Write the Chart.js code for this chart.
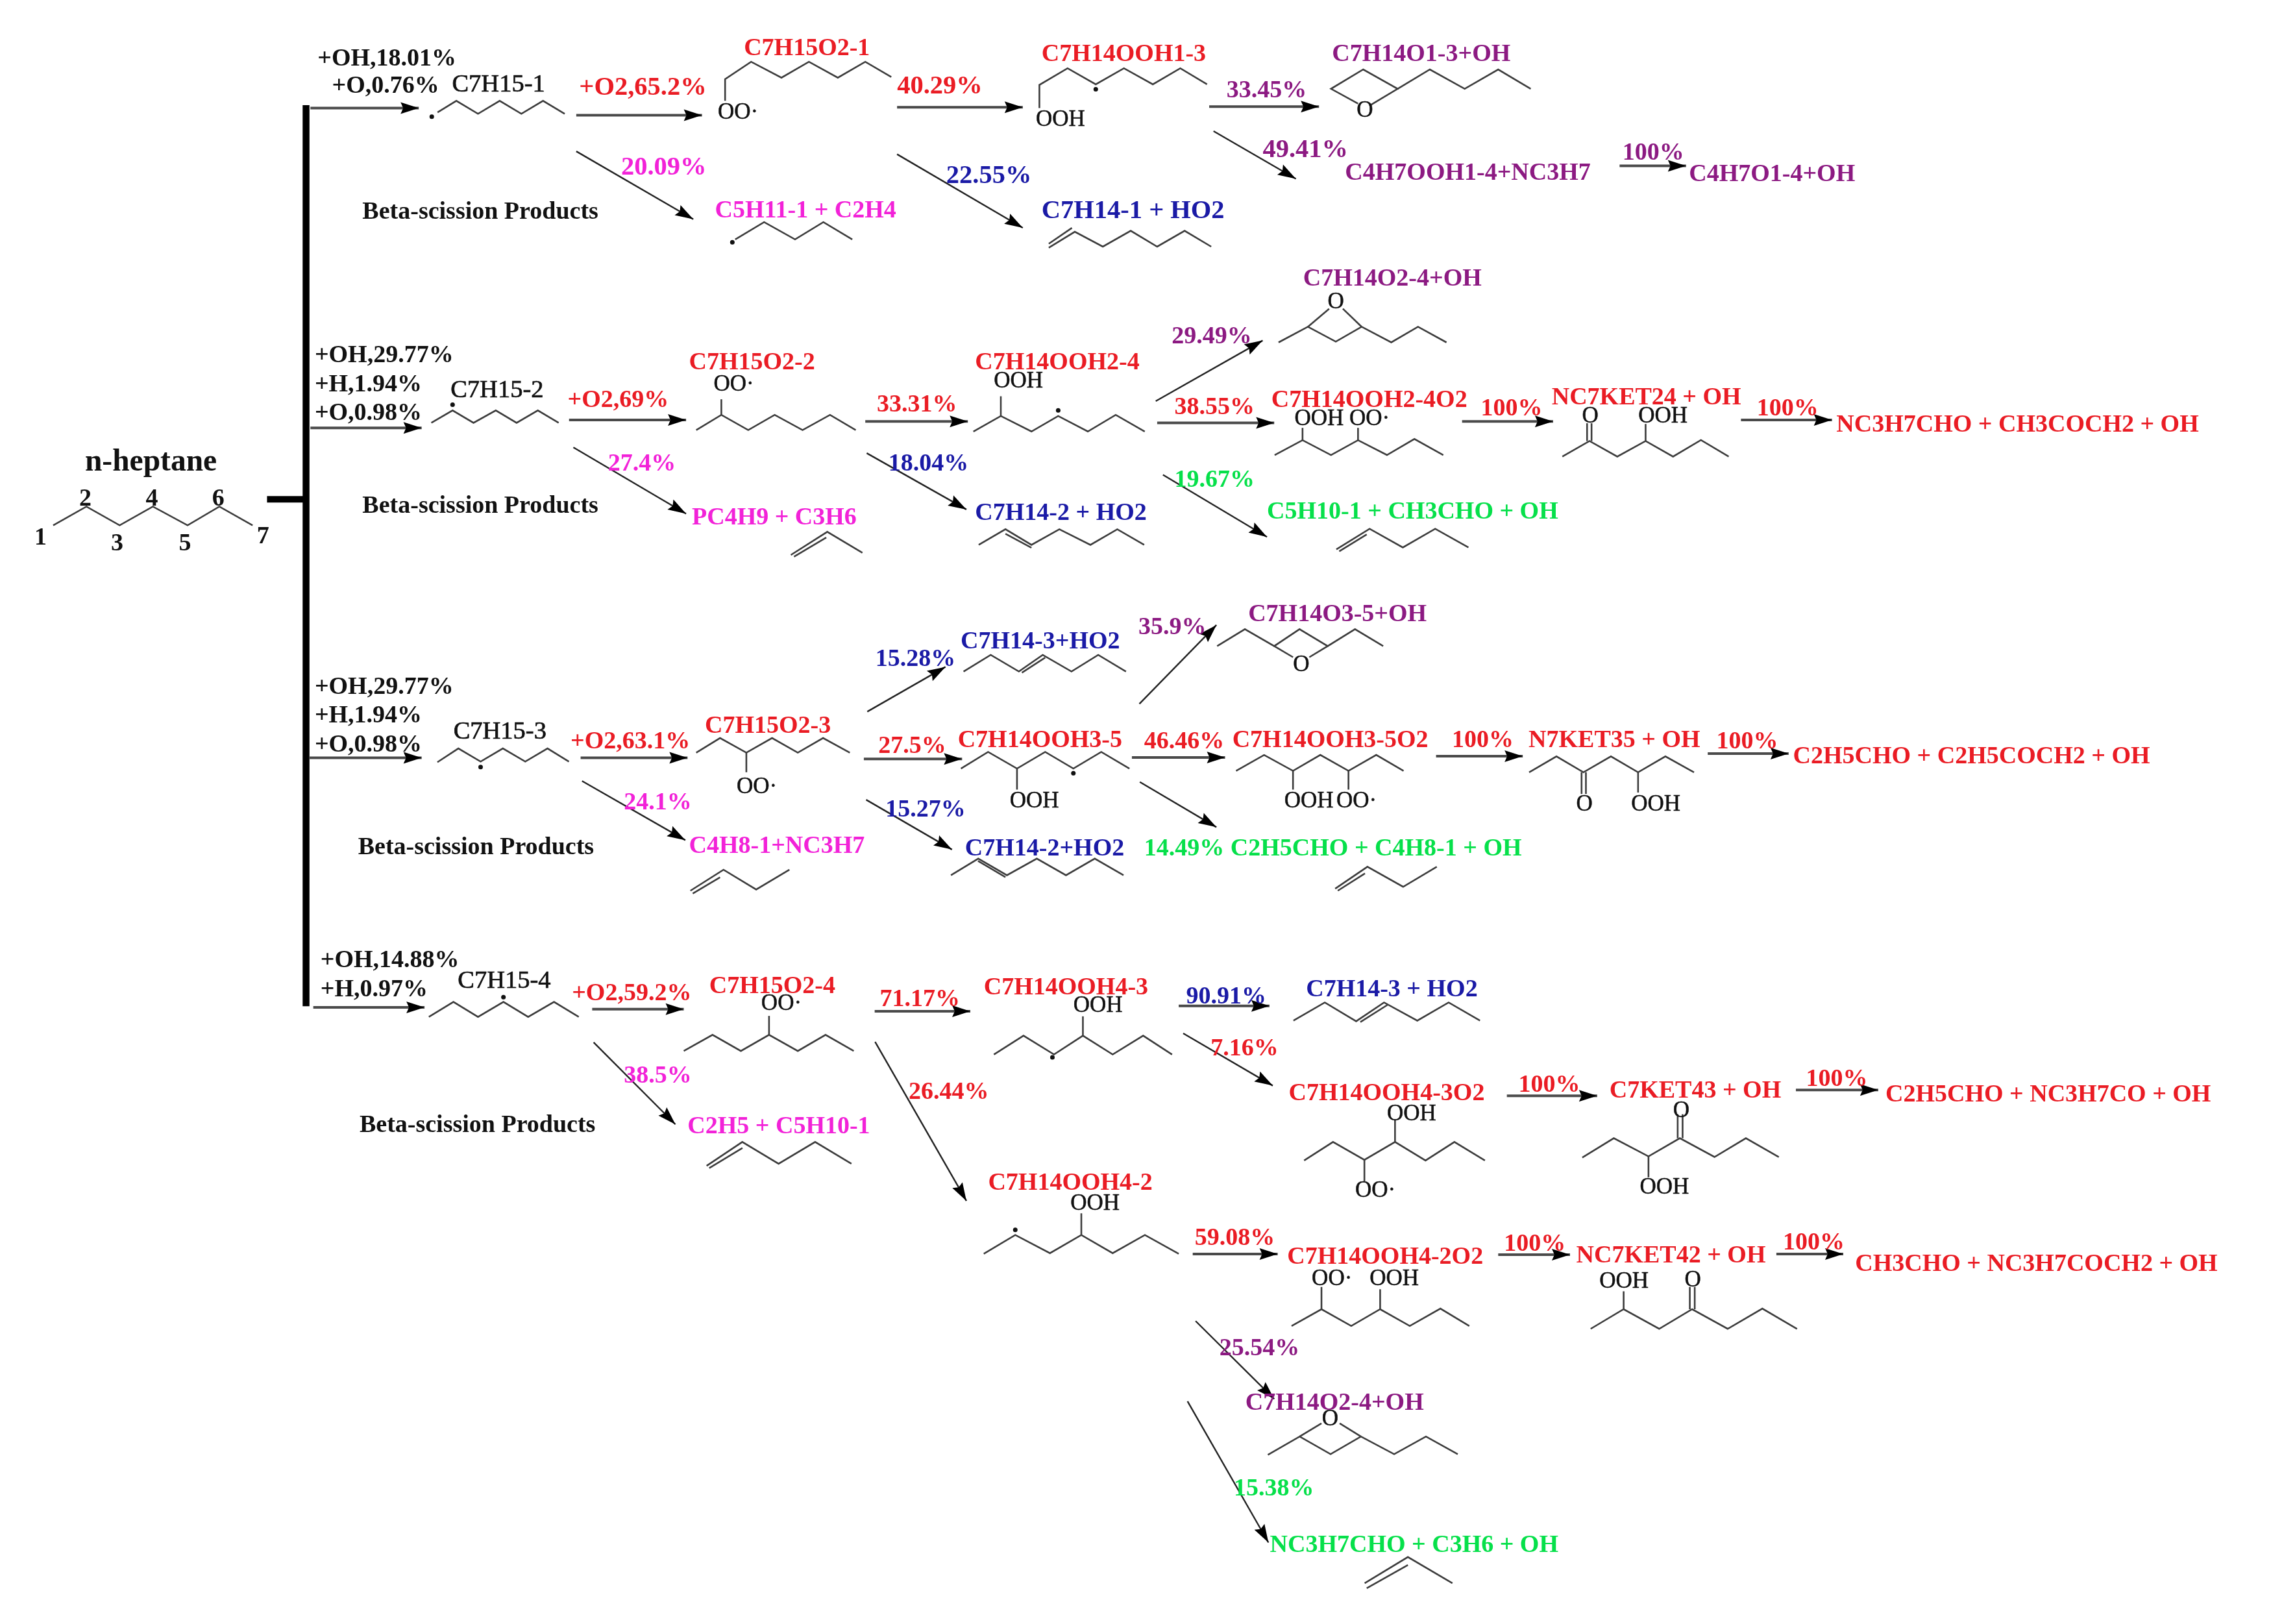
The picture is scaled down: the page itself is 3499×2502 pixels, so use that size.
<!DOCTYPE html>
<html>
<head>
<meta charset="utf-8">
<title>n-heptane reaction pathways</title>
<script src="https://cdn.jsdelivr.net/npm/chart.js@4"></script>
<style>
    html, body { margin: 0; padding: 0; background: #fff; }
    canvas { display: block; filter: blur(0.7px); }
</style>
</head>
<body>
<canvas id="pathways" width="3499" height="2502"></canvas>
<script>
// --- Labels: [text, left x, centre y] on the diagram axes ---

const titleLabels = [['n-heptane', 57, 318]];

const atomNumbers = [
    ['1', 22, 370], ['2', 53, 343], ['3', 75, 374], ['4', 99, 343],
    ['5', 122, 374], ['6', 145, 343], ['7', 176, 369],
];

const blackLabels = [
    ['+OH,18.01%', 218, 39], ['+O,0.76%', 228, 58],
    ['Beta-scission Products', 249, 145],
    ['+OH,29.77%', 216, 244], ['+H,1.94%', 216, 264], ['+O,0.98%', 216, 284],
    ['Beta-scission Products', 249, 348],
    ['+OH,29.77%', 216, 473], ['+H,1.94%', 216, 493], ['+O,0.98%', 216, 513],
    ['Beta-scission Products', 246, 584],
    ['+OH,14.88%', 220, 662], ['+H,0.97%', 220, 682],
    ['Beta-scission Products', 247, 776],
];

const radicalNames = [
    ['C7H15-1', 311, 57], ['C7H15-2', 310, 268], ['C7H15-3', 312, 504], ['C7H15-4', 315, 676],
];

const groupLabels = [
    ['OO·', 495, 76], ['OOH', 715, 81], ['O', 937, 75],
    ['OO·', 492, 264], ['OOH', 686, 262], ['OOH', 894, 288], ['OO·', 932, 288],
    ['O', 1093, 286], ['OOH', 1132, 286], ['O', 917, 207],
    ['OO·', 508, 542], ['OOH', 697, 552], ['OOH', 887, 552], ['OO·', 923, 552],
    ['O', 1089, 554], ['OOH', 1127, 554], ['O', 893, 458],
    ['OO·', 525, 692], ['OOH', 741, 693], ['OOH', 958, 768], ['OO·', 936, 821],
    ['O', 1156, 766], ['OOH', 1133, 819], ['OOH', 739, 830],
    ['OO·', 906, 882], ['OOH', 946, 882], ['OOH', 1105, 884], ['O', 1164, 883],
    ['O', 913, 979],
];

const redLabels = [
    ['C7H15O2-1', 513, 32], ['C7H14OOH1-3', 719, 36],
    ['C7H15O2-2', 475, 249], ['+O2,69%', 391, 275], ['33.31%', 605, 278], ['C7H14OOH2-4', 673, 249],
    ['38.55%', 811, 280], ['C7H14OOH2-4O2', 878, 275], ['100%', 1023, 281], ['NC7KET24 + OH', 1072, 273],
    ['100%', 1214, 281], ['NC3H7CHO + CH3COCH2 + OH', 1269, 292],
    ['C7H15O2-3', 486, 500], ['+O2,63.1%', 393, 511], ['27.5%', 606, 514], ['C7H14OOH3-5', 661, 510],
    ['46.46%', 790, 511], ['C7H14OOH3-5O2', 851, 510], ['100%', 1003, 510], ['N7KET35 + OH', 1056, 510],
    ['100%', 1186, 511], ['C2H5CHO + C2H5COCH2 + OH', 1239, 521],
    ['C7H15O2-4', 489, 680], ['+O2,59.2%', 394, 685], ['71.17%', 607, 689], ['C7H14OOH4-3', 679, 681],
    ['7.16%', 836, 723], ['26.44%', 627, 753], ['C7H14OOH4-3O2', 890, 754], ['100%', 1049, 748],
    ['C7KET43 + OH', 1112, 752], ['100%', 1248, 744], ['C2H5CHO + NC3H7CO + OH', 1303, 755],
    ['C7H14OOH4-2', 682, 816], ['59.08%', 825, 854], ['C7H14OOH4-2O2', 889, 867], ['100%', 1039, 858],
    ['NC7KET42 + OH', 1089, 866], ['100%', 1232, 857], ['CH3CHO + NC3H7COCH2 + OH', 1282, 872],
];
const redLargeLabels = [['+O2,65.2%', 399, 59], ['40.29%', 619, 58]];

const magentaLabels = [
    ['C5H11-1 + C2H4', 493, 144],
    ['27.4%', 419, 319], ['PC4H9 + C3H6', 477, 356],
    ['24.1%', 430, 553], ['C4H8-1+NC3H7', 475, 583],
    ['38.5%', 430, 742], ['C2H5 + C5H10-1', 474, 777],
];
const magentaLargeLabels = [['20.09%', 428, 114]];

const blueLabels = [
    ['18.04%', 613, 319], ['C7H14-2 + HO2', 673, 353],
    ['15.28%', 604, 454], ['C7H14-3+HO2', 663, 442],
    ['15.27%', 611, 558], ['C7H14-2+HO2', 666, 585],
    ['90.91%', 819, 687], ['C7H14-3 + HO2', 902, 682],
];
const blueLargeLabels = [['22.55%', 653, 120], ['C7H14-1 + HO2', 719, 144]];

const purpleLabels = [
    ['33.45%', 847, 61], ['C7H14O1-3+OH', 920, 36],
    ['C4H7OOH1-4+NC3H7', 929, 118], ['100%', 1121, 104], ['C4H7O1-4+OH', 1167, 119],
    ['C7H14O2-4+OH', 900, 191], ['29.49%', 809, 231],
    ['C7H14O3-5+OH', 862, 423], ['35.9%', 786, 432],
    ['25.54%', 842, 930], ['C7H14O2-4+OH', 860, 968],
];
const purpleLargeLabels = [['49.41%', 872, 102]];

const greenLabels = [
    ['19.67%', 811, 330], ['C5H10-1 + CH3CHO + OH', 875, 352],
    ['14.49% C2H5CHO + C4H8-1 + OH', 790, 585],
    ['15.38%', 852, 1027], ['NC3H7CHO + C3H6 + OH', 877, 1066],
];

// --- Reaction arrows: [from x, from y, to x, to y] ---

const arrows = [
    [213, 73, 288, 73], [213, 294.5, 290, 294.5], [212, 523, 290, 523], [215, 695.8, 292, 695.8],
    [397, 78, 484, 78], [397, 103, 478, 150], [619, 72.5, 706, 72.5], [619, 105, 706, 156],
    [835, 72, 911, 72], [838, 89, 895, 122], [1119, 113, 1165, 113],
    [392, 289, 473, 289], [395, 308, 473, 354], [597, 290, 668, 290], [598, 312, 667, 351],
    [798, 276, 872, 234], [799, 291, 880, 291], [803, 327, 875, 370], [1010, 290, 1073, 290],
    [1203, 289, 1266, 289],
    [400, 523, 474, 523], [401, 539, 472.5, 580], [598.4, 491, 652.5, 460], [596, 523.7, 664, 523.7],
    [597.6, 552, 657, 586.5], [786.7, 485.6, 840, 431], [781.5, 522.7, 846, 522.7], [787, 539.7, 840, 571],
    [992, 521.8, 1052, 521.8], [1180, 520, 1236, 520],
    [408, 697, 471.4, 697], [409, 720, 465.6, 776.8], [603.5, 698.5, 669.7, 698.5], [603.8, 719.7, 667, 829.8],
    [813.9, 694.8, 876.7, 694.8], [817, 713.8, 879, 750], [1041, 757, 1103.5, 757], [1241, 753, 1298, 753],
    [823.6, 866.6, 882.4, 866.6], [1035, 867, 1084.7, 867], [1227.5, 866.6, 1273.8, 866.6],
    [825.6, 913, 880, 967], [820, 968.6, 876, 1066.4],
];

// --- Branch bar from n-heptane to the four radicals ---

const branchBar = [[210, 71], [210, 695]];
const branchStub = [[183, 344], [208, 344]];

// --- Carbon skeletons and bonds: flat x, y lists ---

const skeletons = [
    [35, 362, 58, 349, 81, 362, 104, 349, 128, 362, 150, 349, 173, 362],
    // row 1
    [301, 76, 314, 68, 329, 77, 344, 68, 359, 77, 374, 68, 389, 77],
    [500, 68, 500, 53, 518, 41, 539, 52, 558, 41, 578, 52, 597, 41, 615, 51.5],
    [717.5, 73, 717.5, 57, 737, 45.5, 756.5, 56.6, 776, 45.5, 796, 56.6, 815, 45.5, 833.5, 56.6],
    [938, 70, 919.3, 59.7, 941.6, 46.3, 965.4, 59.7, 947, 70.7],
    [965.4, 59.7, 987.7, 46.3, 1011.8, 59.7, 1035, 46.3, 1057.5, 59.7],
    [507, 164, 527, 152, 548.4, 164, 568, 152, 588, 164],
    [724, 169.7, 742, 158.7, 761.4, 169, 780.7, 158, 799, 169, 818, 158, 836.4, 169],
    [724, 167, 740, 156],
    // row 2
    [296.7, 291, 311.4, 282.4, 325.9, 291, 341.3, 282.4, 355.7, 291, 370.4, 282.4, 384.8, 291],
    [480, 296, 497.4, 285.5, 516, 296, 534.3, 285.5, 553.6, 296, 572.6, 285.5, 590.4, 296],
    [497.4, 285.5, 497.4, 274.7],
    [671.8, 297, 690.8, 286.3, 712, 297, 730.5, 286.3, 751, 297, 770.3, 285.5, 790.4, 297],
    [690.8, 286.3, 690.8, 272.6],
    [880.3, 313.3, 899.6, 303, 919.3, 313.3, 938, 303, 958, 313.3, 977, 302.2, 997, 313.3],
    [899.6, 303, 899.6, 294.5], [938, 303, 938, 294.5],
    [883, 235.3, 903.3, 224.5, 922.6, 234.8, 940.5, 224.5, 961, 235.3, 979.5, 224.5, 999.2, 235.3],
    [903.3, 224.5, 918, 212], [940.5, 224.5, 927.5, 212],
    [675.5, 375.5, 694, 364.7, 712, 375.5, 731.3, 364.7, 752.8, 375.5, 771.4, 364.7, 790, 375.5],
    [694, 367.8, 712, 377.5],
    [545.5, 382.5, 570.7, 366.5, 595, 381], [547.7, 383.7, 570, 370.4],
    [923, 378.6, 946, 364.4, 969, 377.3, 991.4, 364.4, 1014.4, 377.3], [925, 380, 944, 368.3],
    [1079.4, 314.4, 1098.2, 303.6, 1117.4, 314.4, 1137, 303.6, 1156, 314.4, 1175.3, 302.9, 1194.5, 314.4],
    [1096.5, 303.6, 1096.5, 291.3], [1099.6, 303.6, 1099.6, 291.3], [1137, 303.6, 1137, 291.8],
    // row 3
    [300.9, 526, 315.4, 516.5, 330.8, 525.6, 346.2, 516.5, 361.7, 525.6, 377.1, 516.5, 391.9, 525.6],
    [480, 519.4, 496.5, 509.3, 514.7, 519.4, 532.5, 509.3, 550.3, 519.4, 567.8, 509.3, 586.3, 519.4],
    [514.7, 519.4, 514.7, 533],
    [663.2, 530.4, 682, 518.9, 702, 530.4, 721.5, 518.9, 741, 530.4, 760.3, 518.9, 779.8, 530.4],
    [702, 530.4, 702, 545],
    [853.6, 532, 873, 521, 893, 532, 911.9, 521, 931.4, 532, 950.6, 521, 969.5, 532],
    [893, 532, 893, 545], [931.4, 532, 931.4, 545],
    [1056.4, 533, 1075.3, 522, 1094, 533, 1113, 522, 1131.8, 533, 1150.7, 522, 1170.5, 533],
    [1092.7, 533, 1092.7, 548], [1095.7, 533, 1095.7, 548], [1131.8, 533, 1131.8, 547],
    [840.5, 445.6, 859.7, 433.9, 880, 445.6, 897.5, 433.9, 917, 445.6, 935.9, 433.9, 955.4, 445.6],
    [880, 445.6, 893, 453.3], [917, 445.6, 904.3, 453.3],
    [665, 463.2, 683.8, 451.7, 703.3, 463.2, 719.8, 451.7, 739.7, 463.2, 758.2, 451.7, 777.4, 463.2],
    [705.4, 464, 721.5, 453.6],
    [656.3, 604.3, 675.2, 592.8, 695, 604.3, 715.7, 592.8, 735.9, 604.3, 755.8, 592.8, 775.7, 604.3],
    [675, 594.4, 694, 605.6],
    [476, 615, 498.9, 600.5, 521.5, 614.2, 544.5, 600.5], [477.6, 617, 496.5, 605.7],
    [922.2, 613.6, 944.5, 598.4, 969.2, 612.3, 992.5, 598.4], [924, 615, 942.8, 603],
    // row 4
    [295, 702.4, 312, 692, 329, 702.4, 346.6, 692, 363.7, 702.4, 381.6, 692, 398.7, 702.4],
    [471.4, 726, 491.3, 714.8, 510.9, 726, 530.4, 714.8, 550.3, 726, 569.5, 714.8, 589, 726],
    [530.4, 714.8, 530.4, 701.7],
    [487.2, 805.5, 511.9, 789, 537, 804.1, 562.3, 789, 587.4, 804.1], [489, 807.1, 512, 793.2],
    [686, 728.4, 706.5, 715.4, 727.6, 728.4, 747.6, 715.4, 768.2, 728.4, 789.3, 715.4, 809.3, 728.4],
    [747.6, 715.4, 747.6, 702],
    [893.3, 705, 915, 692.4, 936.7, 705.4, 956, 692.4, 979, 705, 1000.7, 692.4, 1022.4, 705],
    [939.6, 706, 958.5, 694],
    [900.7, 801.8, 920.7, 789, 942.4, 801.4, 963.6, 789, 984.7, 801.8, 1004.7, 789, 1025.8, 801.8],
    [963.6, 789, 963.6, 773.4], [942.4, 801.4, 942.4, 816.4],
    [1093.2, 799.8, 1115, 786.4, 1139, 799, 1160.7, 786.4, 1184.7, 799.4, 1206.4, 786.4, 1229.2, 799.4],
    [1159.2, 786.4, 1159.2, 769.8], [1162.6, 786.4, 1162.6, 769.8], [1139, 799, 1139, 813.4],
    [679, 866.4, 700.8, 853.4, 724.8, 866, 746.5, 853.4, 768.2, 866, 790.5, 853.4, 813.9, 866.4],
    [746.5, 853.4, 746.5, 838.4],
    [892, 916.4, 912.7, 904.8, 933.3, 916.4, 953.3, 904.8, 973.8, 916.4, 995, 904.4, 1015, 916.4],
    [912.7, 904.8, 912.7, 889.4], [953.3, 904.8, 953.3, 891],
    [1099, 918.4, 1121.8, 904.8, 1146.4, 918.4, 1169.2, 904.8, 1193.8, 918.4, 1217.8, 904.4, 1241.8, 918.4],
    [1121.8, 904.8, 1121.8, 892.4], [1167.6, 904.8, 1167.6, 889.4], [1171, 904.8, 1171, 889.4],
    [875.6, 1005.7, 897.6, 993, 919, 1005.2, 940, 993, 963, 1005.2, 985, 993, 1007, 1005.2],
    [897.6, 993, 912.7, 983.9], [940, 993, 925.3, 983.9],
    [942.6, 1094.5, 972.5, 1076.4, 1003.3, 1094.5], [944, 1098, 972.5, 1081.9],
];

// --- Radical centres ---

const radicalDots = [
    [297, 79], [505, 166], [756.5, 60], [311.4, 278.5], [730.5, 282.4],
    [330.8, 529.4], [741, 533.6], [346.6, 688.7], [726.5, 730.4], [700.8, 849.8],
];

// --- Text groups ---

const SERIF = '"Liberation Serif", "Times New Roman", serif';
const BOLD = `bold 38px ${SERIF}`;
const BOLD_LARGE = `bold 40.5px ${SERIF}`;
const TEXT_DRIFT = 0.0023;   // my label readings run slightly high further down the page

const textGroups = [
    { rows: titleLabels, color: '#111111', font: `bold 47.5px ${SERIF}` },
    { rows: atomNumbers, color: '#111111', font: BOLD },
    { rows: blackLabels, color: '#111111', font: BOLD },
    { rows: radicalNames, color: '#111111', font: `38.5px ${SERIF}`, stroke: 0.7 },
    { rows: groupLabels, color: '#111111', font: `35px ${SERIF}`, stroke: 0.5 },
    { rows: redLabels, color: '#ea1c24', font: BOLD },
    { rows: redLargeLabels, color: '#ea1c24', font: BOLD_LARGE },
    { rows: magentaLabels, color: '#f222d8', font: BOLD },
    { rows: magentaLargeLabels, color: '#f222d8', font: BOLD_LARGE },
    { rows: blueLabels, color: '#1a1aa6', font: BOLD },
    { rows: blueLargeLabels, color: '#1a1aa6', font: BOLD_LARGE },
    { rows: purpleLabels, color: '#8c1a82', font: BOLD },
    { rows: purpleLargeLabels, color: '#8c1a82', font: BOLD_LARGE },
    { rows: greenLabels, color: '#06e04a', font: BOLD },
];

// --- Helpers ---

function toPoints(flat) {
    const points = [];
    for (let i = 0; i < flat.length; i += 2) {
        points.push({ x: flat[i], y: flat[i + 1] });
    }
    return points;
}

function pairsToPoints(pairs) {
    return pairs.map(([x, y]) => ({ x, y }));
}

function lineDataset(data, color, width) {
    return {
        data,
        showLine: true,
        borderColor: color,
        borderWidth: width,
        pointRadius: 0,
        fill: false,
        tension: 0,
        clip: false,
    };
}

function buildDatasets() {
    const datasets = [];
    for (const flat of skeletons) {
        datasets.push(lineDataset(toPoints(flat), '#3c3c3c', 2.6));
    }
    for (const [x1, y1, x2, y2] of arrows) {
        const level = y1 === y2;
        datasets.push(lineDataset(toPoints([x1, y1, x2, y2]), level ? '#4a4a4a' : '#222222', level ? 4 : 2.4));
    }
    datasets.push(lineDataset(pairsToPoints(branchBar), '#000000', 10.5));
    datasets.push(lineDataset(pairsToPoints(branchStub), '#000000', 10));
    datasets.push({
        data: pairsToPoints(radicalDots),
        showLine: false,
        pointRadius: 3.5,
        backgroundColor: '#111111',
        borderWidth: 0,
    });
    return datasets;
}

// --- Plugins ---

const arrowHeads = {
    id: 'arrowHeads',
    afterDatasetsDraw(chart) {
        const { ctx, scales } = chart;
        ctx.save();
        ctx.fillStyle = '#000000';
        for (const [x1, y1, x2, y2] of arrows) {
            const fromX = scales.x.getPixelForValue(x1);
            const fromY = scales.y.getPixelForValue(y1);
            const toX = scales.x.getPixelForValue(x2);
            const toY = scales.y.getPixelForValue(y2);
            const angle = Math.atan2(toY - fromY, toX - fromX);
            ctx.save();
            ctx.translate(toX, toY);
            ctx.rotate(angle);
            ctx.beginPath();
            ctx.moveTo(0, 0);
            ctx.lineTo(-28, -9);
            ctx.lineTo(-24, 0);
            ctx.lineTo(-28, 9);
            ctx.closePath();
            ctx.fill();
            ctx.restore();
        }
        ctx.restore();
    },
};

const diagramText = {
    id: 'diagramText',
    afterDraw(chart) {
        const { ctx, scales } = chart;
        ctx.save();
        ctx.textAlign = 'left';
        ctx.textBaseline = 'middle';
        for (const group of textGroups) {
            ctx.font = group.font;
            ctx.fillStyle = group.color;
            ctx.strokeStyle = group.color;
            ctx.lineWidth = group.stroke || 0;
            for (const [text, x, y] of group.rows) {
                const px = scales.x.getPixelForValue(x);
                const rowY = scales.y.getPixelForValue(y);
                const py = rowY + rowY * TEXT_DRIFT;
                ctx.fillText(text, px, py);
                if (group.stroke) ctx.strokeText(text, px, py);
            }
        }
        ctx.restore();
    },
};

// --- Chart ---

new Chart(document.getElementById('pathways').getContext('2d'), {
    type: 'scatter',
    data: { datasets: buildDatasets() },
    options: {
        responsive: false,
        animation: false,
        devicePixelRatio: 1,
        layout: { padding: 0 },
        plugins: {
            legend: { display: false },
            tooltip: { enabled: false },
            title: { display: false },
        },
        scales: {
            x: { type: 'linear', display: false, min: 0, max: 1568 },
            y: { type: 'linear', display: false, min: 0, max: 1121, reverse: true },
        },
    },
    plugins: [arrowHeads, diagramText],
});
</script>
</body>
</html>
